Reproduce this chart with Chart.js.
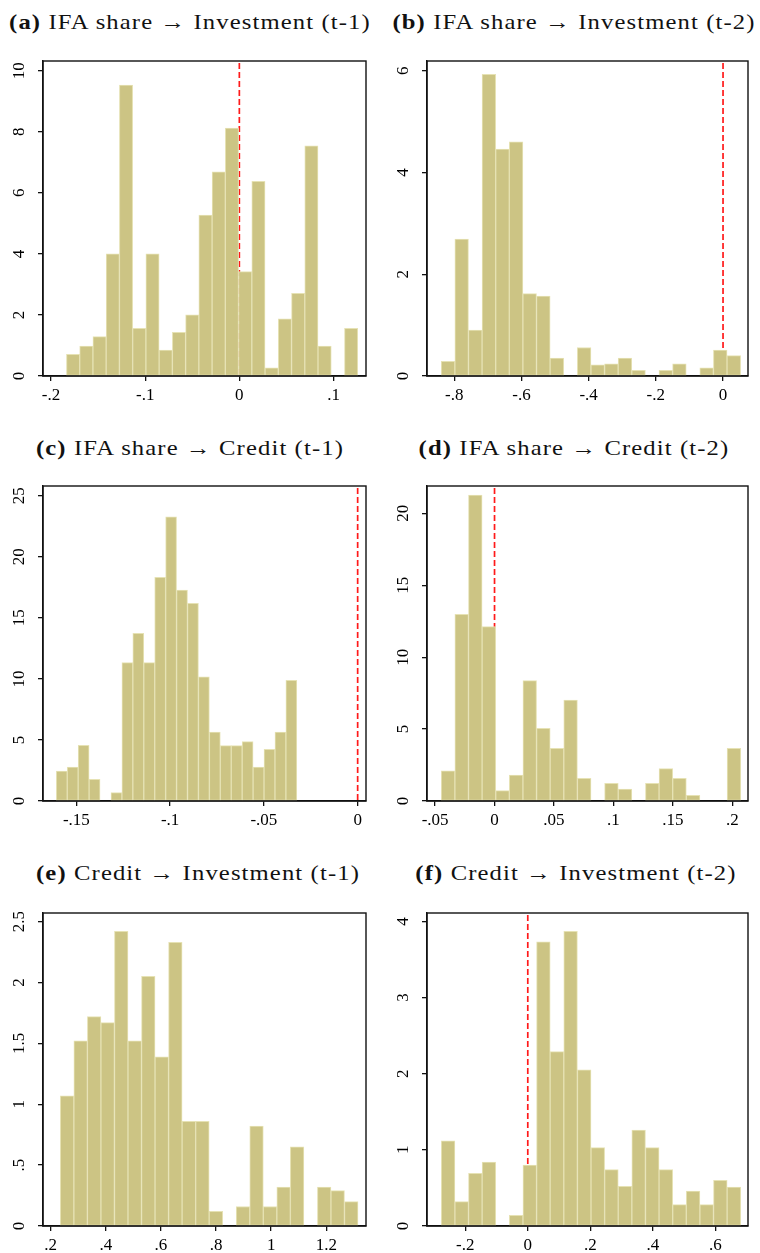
<!DOCTYPE html>
<html>
<head>
<meta charset="utf-8">
<script src="https://cdn.jsdelivr.net/npm/chart.js@4.4.1/dist/chart.umd.min.js"></script>
<style>
  html, body { margin: 0; padding: 0; background: #fff; }
  body { position: relative; width: 760px; height: 1253px; overflow: hidden; }
  .ttl {
    position: absolute; width: 380px; text-align: center;
    font-family: "Liberation Serif", "Times New Roman", serif;
    font-size: 22px; color: #111; white-space: nowrap; letter-spacing: 1px;
    transform: scaleX(1.12); transform-origin: center;
  }
  .ttl b { font-weight: bold; }
  .box { position: absolute; }
</style>
</head>
<body>
<div class="ttl" style="left:0;top:9px"><b>(a)</b> IFA share → Investment (t-1)</div>
<div class="ttl" style="left:384px;top:9px"><b>(b)</b> IFA share → Investment (t-2)</div>
<div class="ttl" style="left:0;top:435px"><b>(c)</b> IFA share → Credit (t-1)</div>
<div class="ttl" style="left:384px;top:435px"><b>(d)</b> IFA share → Credit (t-2)</div>
<div class="ttl" style="left:8px;top:860px"><b>(e)</b> Credit → Investment (t-1)</div>
<div class="ttl" style="left:386px;top:860px"><b>(f)</b> Credit → Investment (t-2)</div>

<div class="box" id="boxA"><canvas id="cA"></canvas></div>
<div class="box" id="boxB"><canvas id="cB"></canvas></div>
<div class="box" id="boxC"><canvas id="cC"></canvas></div>
<div class="box" id="boxD"><canvas id="cD"></canvas></div>
<div class="box" id="boxE"><canvas id="cE"></canvas></div>
<div class="box" id="boxF"><canvas id="cF"></canvas></div>

<script>
"use strict";

/* ── Datos: histogramas (densidad), 22 bins cada uno ─────────── */
const binStartA = -0.1836, binWidthA = 0.01406;
const heightsA  = [0.71, 0.98, 1.29, 4.0, 9.53, 1.56, 4.0, 0.85, 1.43, 2.0, 5.27,
                   6.69, 8.12, 3.42, 6.38, 0.27, 1.87, 2.71, 7.54, 0.98, 0, 1.56];
const xTicksA   = [-0.2, -0.1, 0, 0.1];
const yTicksA   = [0, 2, 4, 6, 8, 10];

const binStartB = -0.8386, binWidthB = 0.0405;
const heightsB  = [0.29, 2.69, 0.90, 5.93, 4.46, 4.60, 1.62, 1.57, 0.35, 0, 0.56,
                   0.22, 0.24, 0.35, 0.11, 0, 0.11, 0.24, 0, 0.16, 0.51, 0.40];
const xTicksB   = [-0.8, -0.6, -0.4, -0.2, 0];
const yTicksB   = [0, 2, 4, 6];

const binStartC = -0.1607, binWidthC = 0.00583;
const heightsC  = [2.46, 2.78, 4.56, 1.77, 0, 0.68, 11.33, 13.73, 11.33, 18.31, 23.28,
                   17.28, 16.18, 10.18, 5.65, 4.53, 4.53, 4.86, 2.78, 4.23, 5.65, 9.88];
const xTicksC   = [-0.15, -0.1, -0.05, 0];
const yTicksC   = [0, 5, 10, 15, 20, 25];

const binStartD = -0.0448, binWidthD = 0.01145;
const heightsD  = [2.09, 12.98, 21.27, 12.12, 0.72, 1.81, 8.37, 5.05, 3.66, 7.02, 1.58,
                   0, 1.23, 0.83, 0, 1.23, 2.25, 1.58, 0.39, 0, 0, 3.66];
const xTicksD   = [-0.05, 0, 0.05, 0.1, 0.15, 0.2];
const yTicksD   = [0, 5, 10, 15, 20];

const binStartE = 0.235, binWidthE = 0.0491;
const heightsE  = [1.07, 1.52, 1.72, 1.67, 2.42, 1.52, 2.05, 1.39, 2.33, 0.86, 0.86,
                   0.12, 0, 0.16, 0.82, 0.16, 0.32, 0.65, 0, 0.32, 0.29, 0.20];
const xTicksE   = [0.2, 0.4, 0.6, 0.8, 1, 1.2];
const yTicksE   = [0, 0.5, 1, 1.5, 2, 2.5];

const binStartF = -0.2766, binWidthF = 0.04353;
const heightsF  = [1.12, 0.32, 0.69, 0.84, 0, 0.14, 0.80, 3.73, 2.29, 3.87, 2.05,
                   1.03, 0.74, 0.52, 1.26, 1.03, 0.74, 0.28, 0.46, 0.28, 0.60, 0.51];
const xTicksF   = [-0.2, 0, 0.2, 0.4, 0.6];
const yTicksF   = [0, 1, 2, 3, 4];

/* ── Estilo ──────────────────────────────────────────────────── */
const BAR_FILL   = "rgb(204,196,132)";
const BAR_LINE   = "rgb(230,226,180)";
const REF_RED    = "#ff1a1a";
const AXIS_BLACK = "#111";
const FONT_FAM   = "'Liberation Serif', 'Times New Roman', serif";
const TICK_SIZE  = 17;

/* Formato estilo Stata: 0.1 -> ".1", -0.2 -> "-.2" */
function fmt(v) {
  const s = String(+Number(v).toFixed(4));
  return s.replace(/^(-?)0\./, "$1.");
}

/* ── Plugins ─────────────────────────────────────────────────── */
const refLinePlugin = {
  id: "refLine",
  beforeDatasetsDraw(chart) {
    const { ctx, chartArea, scales } = chart;
    const x = scales.x.getPixelForValue(0);
    if (x < chartArea.left || x > chartArea.right) return;
    ctx.save();
    ctx.strokeStyle = REF_RED;
    ctx.lineWidth = 1.7;
    ctx.setLineDash([6, 3]);
    ctx.beginPath();
    ctx.moveTo(x, chartArea.top + 2);
    ctx.lineTo(x, chartArea.bottom);
    ctx.stroke();
    ctx.restore();
  }
};

const framePlugin = {
  id: "frame",
  afterDraw(chart) {
    const { ctx, chartArea: a, scales } = chart;
    ctx.save();
    ctx.strokeStyle = AXIS_BLACK;
    ctx.lineWidth = 1.4;
    ctx.strokeRect(a.left, a.top, a.right - a.left, a.bottom - a.top);

    /* etiquetas del eje y, giradas 90° */
    ctx.fillStyle = "#000";
    ctx.font = TICK_SIZE + "px " + FONT_FAM;
    ctx.textAlign = "center";
    ctx.textBaseline = "middle";
    scales.y.ticks.forEach(t => {
      const y = scales.y.getPixelForValue(t.value);
      ctx.save();
      ctx.translate(a.left - 23, y);
      ctx.rotate(-Math.PI / 2);
      ctx.fillText(fmt(t.value), 0, 0);
      ctx.restore();
    });
    ctx.restore();
  }
};

/* ── Constructor de panel ────────────────────────────────────── */
function buildPanel(cfg) {
  const box = document.getElementById(cfg.box);
  const canvas = document.getElementById(cfg.canvas);
  const c = cfg.cv, a = cfg.area;
  box.style.left = c.L + "px";
  box.style.top = c.T + "px";
  canvas.width = c.W;
  canvas.height = c.H;
  canvas.style.width = c.W + "px";
  canvas.style.height = c.H + "px";

  const HX = 27;
  const padding = {
    left: 0,
    top: a.t - c.T,
    right: c.L + c.W - a.r,
    bottom: c.T + c.H - a.b - HX,
  };

  const data = cfg.heights.map((h, i) => ({
    x: cfg.binStart + (i + 0.5) * cfg.binWidth,
    y: h,
  }));

  return new Chart(canvas, {
    type: "bar",
    plugins: [refLinePlugin, framePlugin],
    data: {
      datasets: [{
        data,
        backgroundColor: BAR_FILL,
        borderColor: BAR_LINE,
        borderWidth: 1,
        borderSkipped: false,
        barPercentage: 1,
        categoryPercentage: 1,
      }]
    },
    options: {
      responsive: false,
      animation: false,
      devicePixelRatio: 1,
      layout: { padding },
      plugins: { legend: { display: false }, tooltip: { enabled: false } },
      scales: {
        x: {
          type: "linear",
          offset: false,
          min: cfg.xMin, max: cfg.xMax,
          afterBuildTicks: s => { s.ticks = cfg.xTicks.map(v => ({ value: v })); },
          afterFit: s => { s.height = HX; },
          ticks: {
            callback: v => fmt(v),
            color: "#000",
            font: { family: FONT_FAM, size: TICK_SIZE },
            padding: 4,
            maxRotation: 0, autoSkip: false,
          },
          grid: { offset: false, drawOnChartArea: false, tickLength: 5, color: AXIS_BLACK, lineWidth: 1.3 },
          border: { display: true, color: AXIS_BLACK, width: 1.4 },
        },
        y: {
          min: 0, max: cfg.yMax,
          afterBuildTicks: s => { s.ticks = cfg.yTicks.map(v => ({ value: v })); },
          afterFit: s => { s.width = a.l - c.L; },
          ticks: { display: false },
          grid: { drawOnChartArea: false, tickLength: 5, color: AXIS_BLACK, lineWidth: 1.3 },
          border: { display: true, color: AXIS_BLACK, width: 1.4 },
        }
      }
    }
  });
}

/* ── Paneles ─────────────────────────────────────────────────── */
const ROW1 = { T: 40,  H: 370 };
const ROW2 = { T: 465, H: 370 };
const ROW3 = { T: 912, H: 341 };

buildPanel({
  box: "boxA", canvas: "cA",
  cv: { L: 0, T: ROW1.T, W: 380, H: ROW1.H },
  area: { l: 43, t: 61, r: 366, b: 376 },
  binStart: binStartA, binWidth: binWidthA, heights: heightsA,
  xMin: -0.2085, xMax: 0.1345, yMax: 10.32, xTicks: xTicksA, yTicks: yTicksA,
});
buildPanel({
  box: "boxB", canvas: "cB",
  cv: { L: 380, T: ROW1.T, W: 380, H: ROW1.H },
  area: { l: 427, t: 61, r: 748, b: 376 },
  binStart: binStartB, binWidth: binWidthB, heights: heightsB,
  xMin: -0.881, xMax: 0.0743, yMax: 6.19, xTicks: xTicksB, yTicks: yTicksB,
});
buildPanel({
  box: "boxC", canvas: "cC",
  cv: { L: 0, T: ROW2.T, W: 380, H: ROW2.H },
  area: { l: 43, t: 486, r: 366, b: 801 },
  binStart: binStartC, binWidth: binWidthC, heights: heightsC,
  xMin: -0.1678, xMax: 0.00445, yMax: 25.8, xTicks: xTicksC, yTicks: yTicksC,
});
buildPanel({
  box: "boxD", canvas: "cD",
  cv: { L: 380, T: ROW2.T, W: 380, H: ROW2.H },
  area: { l: 427, t: 486, r: 748, b: 801 },
  binStart: binStartD, binWidth: binWidthD, heights: heightsD,
  xMin: -0.0568, xMax: 0.2132, yMax: 21.9, xTicks: xTicksD, yTicks: yTicksD,
});
buildPanel({
  box: "boxE", canvas: "cE",
  cv: { L: 0, T: ROW3.T, W: 380, H: ROW3.H },
  area: { l: 43, t: 913, r: 366, b: 1226 },
  binStart: binStartE, binWidth: binWidthE, heights: heightsE,
  xMin: 0.1721, xMax: 1.3442, yMax: 2.571, xTicks: xTicksE, yTicks: yTicksE,
});
buildPanel({
  box: "boxF", canvas: "cF",
  cv: { L: 380, T: ROW3.T, W: 380, H: ROW3.H },
  area: { l: 427, t: 913, r: 748, b: 1226 },
  binStart: binStartF, binWidth: binWidthF, heights: heightsF,
  xMin: -0.3223, xMax: 0.7043, yMax: 4.11, xTicks: xTicksF, yTicks: yTicksF,
});
</script>
</body>
</html>
